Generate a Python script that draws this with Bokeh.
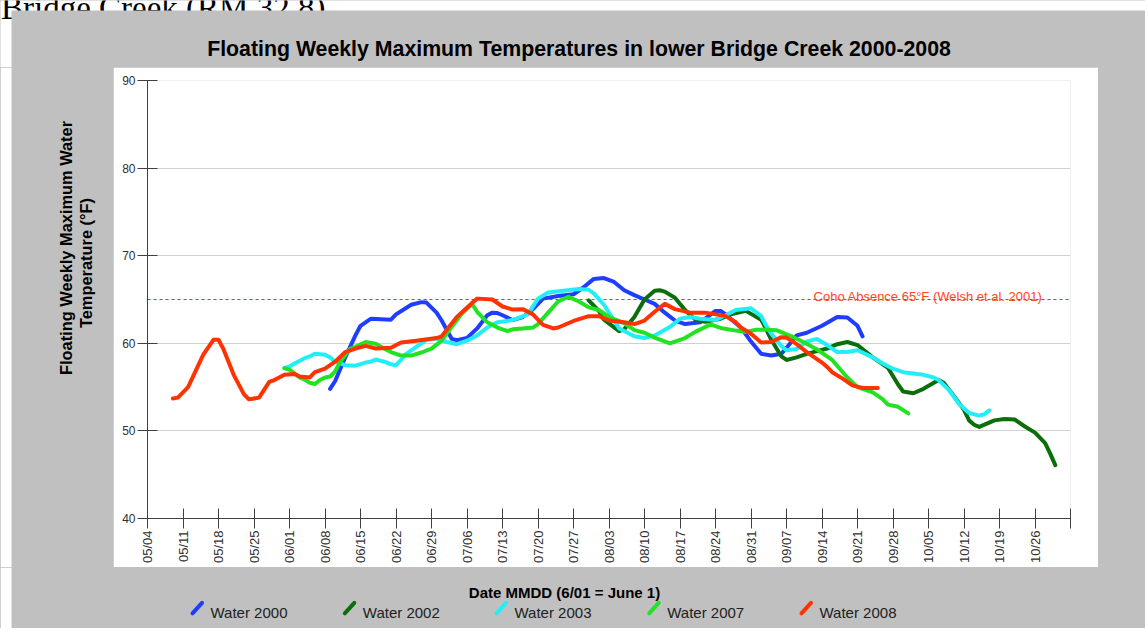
import numpy as np
import pandas as pd
from bokeh.plotting import figure
from bokeh.layouts import column, row
from bokeh.models import ColumnDataSource, FixedTicker, Label, Range1d
from bokeh.core.properties import value
from bokeh.embed import file_html
from bokeh.resources import INLINE

# ---------------- data ----------------
DOC_TEXT = "Bridge Creek (RM 32.8)"
TITLE = "Floating Weekly Maximum Temperatures in lower Bridge Creek 2000-2008"
Y_LABEL_LINES = ["Floating Weekly Maximum Water", "Temperature (°F)"]
X_LABEL = "Date MMDD (6/01 = June 1)"
REF_TEXT = "Coho Absence 65°F (Welsh et al. 2001)"
REF_TEMP = 65

X_START = "05/04"
X_END = "11/02"
X_TICK_LABELS = ["05/04", "05/11", "05/18", "05/25", "06/01", "06/08", "06/15", "06/22",
                 "06/29", "07/06", "07/13", "07/20", "07/27", "08/03", "08/10", "08/17",
                 "08/24", "08/31", "09/07", "09/14", "09/21", "09/28", "10/05", "10/12",
                 "10/19", "10/26"]
Y_MIN, Y_MAX = 40, 90
Y_TICKS = [40, 50, 60, 70, 80, 90]

SERIES_NAMES = ["Water 2000", "Water 2002", "Water 2003", "Water 2007", "Water 2008"]
SERIES_COLORS = ["#1f3dff", "#0a6e0a", "#22eef8", "#22e322", "#ff3300"]

dates_2000 = ["06/09", "06/10", "06/12", "06/14", "06/15", "06/17", "06/19", "06/21", "06/22",
              "06/25", "06/27", "06/28", "06/30", "07/01", "07/03", "07/04", "07/06", "07/08",
              "07/10", "07/11", "07/12", "07/13", "07/15", "07/17", "07/19", "07/21", "07/24",
              "07/27", "07/29", "07/31", "08/02", "08/04", "08/06", "08/08", "08/10", "08/12",
              "08/14", "08/16", "08/18", "08/21", "08/24", "08/25", "08/26", "08/29", "08/31",
              "09/02", "09/04", "09/06", "09/07", "09/09", "09/11", "09/14", "09/17", "09/19",
              "09/21", "09/22"]
temps_2000 = [54.8, 55.7, 58.4, 60.9, 62.0, 62.8, 62.75, 62.7, 63.3,
              64.4, 64.7, 64.65, 63.5, 62.6, 60.5, 60.35, 60.6, 61.7,
              63.2, 63.5, 63.45, 63.2, 62.65, 63.0, 63.9, 65.1, 65.4,
              65.6, 66.4, 67.35, 67.45, 67.0, 66.05, 65.5, 65.0, 64.5,
              63.5, 62.6, 62.2, 62.4, 63.7, 63.7, 63.3, 61.8, 60.2,
              58.8, 58.6, 58.8, 59.5, 60.9, 61.2, 62.0, 63.0, 62.95,
              62.0, 60.8]

dates_2002 = ["07/30", "08/01", "08/02", "08/05", "08/06", "08/08", "08/10", "08/12", "08/13",
              "08/14", "08/16", "08/18", "08/20", "08/22", "08/25", "08/27", "08/30", "09/02",
              "09/03", "09/04", "09/06", "09/07", "09/09", "09/11", "09/13", "09/15", "09/17",
              "09/19", "09/21", "09/24", "09/27", "09/29", "09/30", "10/02", "10/04", "10/07",
              "10/08", "10/10", "10/12", "10/13", "10/14", "10/15", "10/18", "10/20", "10/22",
              "10/24", "10/26", "10/28", "10/29", "10/30"]
temps_2002 = [64.9, 63.7, 62.7, 61.4, 61.6, 63.0, 65.0, 66.0, 66.05,
              65.9, 65.2, 63.8, 62.7, 62.45, 62.8, 63.3, 63.7, 62.7,
              61.6, 60.4, 58.5, 58.1, 58.4, 58.8, 59.1, 59.4, 59.9,
              60.15, 59.8, 58.4, 57.2, 55.3, 54.5, 54.3, 54.8, 55.8,
              55.5, 54.0, 52.4, 51.2, 50.7, 50.45, 51.2, 51.35, 51.3,
              50.5, 49.8, 48.6, 47.4, 46.1]

dates_2003 = ["05/31", "06/01", "06/02", "06/04", "06/05", "06/06", "06/08", "06/09", "06/10",
              "06/12", "06/14", "06/16", "06/17", "06/18", "06/20", "06/21", "06/22", "06/23",
              "06/24", "06/26", "06/28", "06/30", "07/02", "07/04", "07/06", "07/08", "07/10",
              "07/12", "07/15", "07/18", "07/20", "07/22", "07/25", "07/28", "07/30", "07/31",
              "08/02", "08/04", "08/05", "08/06", "08/08", "08/10", "08/12", "08/15", "08/17",
              "08/19", "08/21", "08/24", "08/26", "08/28", "08/31", "09/02", "09/03", "09/04",
              "09/06", "09/07", "09/09", "09/11", "09/13", "09/15", "09/17", "09/19", "09/21",
              "09/24", "09/26", "09/28", "09/30", "10/02", "10/04", "10/06", "10/07", "10/09",
              "10/11", "10/13", "10/15", "10/16", "10/17"]
temps_2003 = [57.2, 57.35, 57.7, 58.3, 58.5, 58.8, 58.7, 58.4, 57.9,
              57.5, 57.45, 57.8, 57.9, 58.15, 57.85, 57.6, 57.5, 58.1,
              58.8, 59.6, 60.4, 60.55, 60.15, 59.9, 60.3, 60.9, 61.8,
              62.4, 62.65, 63.3, 65.1, 65.8, 66.0, 66.2, 66.1, 65.7,
              64.4, 62.6, 61.7, 61.4, 60.8, 60.6, 60.9, 61.85, 62.8,
              63.0, 62.8, 62.65, 63.2, 63.8, 64.0, 63.1, 62.0, 61.1,
              59.7, 59.2, 59.35, 60.2, 60.5, 59.8, 59.0, 59.0, 59.2,
              58.4, 57.7, 57.1, 56.7, 56.55, 56.4, 56.1, 55.8, 54.7,
              53.1, 52.05, 51.75, 51.9, 52.35]

dates_2007 = ["05/31", "06/01", "06/03", "06/04", "06/05", "06/06", "06/07", "06/08", "06/09",
              "06/10", "06/11", "06/13", "06/14", "06/16", "06/18", "06/20", "06/21", "06/23",
              "06/25", "06/27", "06/29", "07/01", "07/03", "07/05", "07/07", "07/08", "07/10",
              "07/12", "07/14", "07/15", "07/17", "07/19", "07/20", "07/22", "07/24", "07/26",
              "07/28", "07/30", "08/01", "08/03", "08/06", "08/08", "08/10", "08/12", "08/15",
              "08/18", "08/20", "08/23", "08/25", "08/28", "08/30", "09/01", "09/03", "09/05",
              "09/08", "09/11", "09/13", "09/16", "09/19", "09/21", "09/23", "09/24", "09/26",
              "09/27", "09/29", "10/01"]
temps_2007 = [57.15, 57.0, 56.1, 55.85, 55.5, 55.35, 55.8, 56.1, 56.2,
              56.8, 57.9, 59.4, 59.6, 60.15, 59.95, 59.3, 59.0, 58.6,
              58.6, 58.95, 59.4, 60.3, 61.9, 63.4, 64.5, 63.6, 62.4,
              61.8, 61.4, 61.6, 61.7, 61.8, 62.2, 63.5, 64.8, 65.3,
              64.8, 64.1, 63.8, 63.0, 62.3, 61.5, 61.2, 60.65, 60.0,
              60.6, 61.3, 62.15, 61.75, 61.45, 61.3, 61.55, 61.55, 61.5,
              60.8, 59.95, 59.3, 58.1, 56.1, 55.0, 54.6, 54.4, 53.6,
              53.0, 52.75, 52.0]

dates_2008 = ["05/09", "05/10", "05/12", "05/15", "05/17", "05/18", "05/19", "05/21", "05/23",
              "05/24", "05/26", "05/28", "05/29", "05/31", "06/02", "06/03", "06/05", "06/06",
              "06/08", "06/10", "06/12", "06/14", "06/16", "06/18", "06/21", "06/23", "06/26",
              "06/30", "07/01", "07/04", "07/07", "07/08", "07/11", "07/13", "07/15", "07/17",
              "07/19", "07/21", "07/23", "07/24", "07/27", "07/30", "08/01", "08/03", "08/06",
              "08/08", "08/10", "08/12", "08/14", "08/16", "08/19", "08/22", "08/26", "08/28",
              "08/29", "08/31", "09/02", "09/04", "09/06", "09/07", "09/09", "09/11", "09/13",
              "09/14", "09/15", "09/16", "09/18", "09/20", "09/22", "09/25"]
temps_2008 = [53.7, 53.8, 55.0, 58.7, 60.4, 60.4, 59.3, 56.4, 54.2,
              53.6, 53.8, 55.6, 55.8, 56.4, 56.5, 56.2, 56.1, 56.7,
              57.1, 57.9, 59.0, 59.4, 59.7, 59.4, 59.5, 60.1, 60.3,
              60.6, 60.8, 63.0, 64.6, 65.1, 65.0, 64.2, 63.85, 63.9,
              63.3, 62.1, 61.7, 61.8, 62.55, 63.1, 63.1, 62.6, 62.4,
              62.2, 62.6, 63.6, 64.5, 63.9, 63.5, 63.5, 63.1, 62.4,
              61.8, 61.1, 60.1, 60.15, 60.7, 60.65, 59.9, 59.0, 58.2,
              57.8, 57.3, 56.7, 56.0, 55.2, 54.9, 54.9]

SERIES_DATES = [dates_2000, dates_2002, dates_2003, dates_2007, dates_2008]
SERIES_TEMPS = [temps_2000, temps_2002, temps_2003, temps_2007, temps_2008]


def day_of(mmdd):
    m, d = map(int, mmdd.split("/"))
    s_m, s_d = map(int, X_START.split("/"))
    return (pd.Timestamp(2008, m, d) - pd.Timestamp(2008, s_m, s_d)).days


# ---------------- layout (pixels) ----------------
TOTAL_W, TOTAL_H = 1145, 628
MARGIN_L, MARGIN_T = 11, 10                                  # white page strip left / top
PANEL_L, PANEL_T, PANEL_W, PANEL_H = 113, 67, 985, 500      # white chart panel
FL, FR, FT, FB = 34, 28, 13, 49                              # frame inside the panel
X0, X1 = 0, day_of(X_END)
FONT = "Liberation Sans"
GRAY = "#c0c0c0"


def pixel_fig(w, h, bg=GRAY):
    return figure(width=w, height=h, output_backend="svg", toolbar_location=None,
                  x_range=Range1d(0, w), y_range=Range1d(h, 0),
                  x_axis_type=None, y_axis_type=None, frame_align=False,
                  min_border=0, min_border_left=0, min_border_right=0,
                  min_border_top=0, min_border_bottom=0,
                  background_fill_color=bg, border_fill_color=bg, outline_line_color=None)


def white_strip(f, h):
    f.quad(left=0, right=MARGIN_L, top=0, bottom=h, fill_color="white", line_color=None)


# main chart
p = figure(width=PANEL_W, height=PANEL_H, output_backend="svg", toolbar_location=None,
           x_range=Range1d(X0, X1), y_range=Range1d(Y_MIN, Y_MAX), frame_align=False,
           min_border_left=FL, min_border_right=FR, min_border_top=FT, min_border_bottom=FB,
           background_fill_color="white", border_fill_color="white", outline_line_color=None)

tick_days = [day_of(t) for t in X_TICK_LABELS]
p.xaxis.ticker = FixedTicker(ticks=tick_days + [X1])
overrides = {d: lab for d, lab in zip(tick_days, X_TICK_LABELS)}
overrides[X1] = ""
p.xaxis.major_label_overrides = overrides
p.xaxis.major_label_orientation = np.pi / 2
p.yaxis.ticker = FixedTicker(ticks=Y_TICKS)
for ax, fs in ((p.xaxis[0], "13px"), (p.yaxis[0], "12px")):
    ax.axis_line_color = "#404040"
    ax.axis_line_width = 1
    ax.major_tick_line_color = "#404040"
    ax.major_tick_in = 10
    ax.major_tick_out = 10
    ax.minor_tick_line_color = None
    ax.major_label_text_font = FONT
    ax.major_label_text_font_size = fs
    ax.major_label_text_color = "#303030"
    ax.major_label_standoff = 2
p.xgrid.grid_line_color = None
p.ygrid.grid_line_color = "#d0d0d0"
p.ygrid.grid_line_width = 1

# reference threshold line + label
p.line([X0, X1], [REF_TEMP, REF_TEMP], line_color="#ff2a00", line_dash="3 3", line_width=1.2)
p.add_layout(Label(x=X1, x_offset=-28, y=REF_TEMP, y_offset=2.6, text=REF_TEXT,
                   text_align="right", text_baseline="alphabetic", text_font=FONT,
                   text_font_size="13px", text_color="#ff4422"))

for name, color, dates, temps in zip(SERIES_NAMES, SERIES_COLORS, SERIES_DATES, SERIES_TEMPS):
    src = ColumnDataSource(dict(day=[day_of(d) for d in dates], temp=temps))
    p.line("day", "temp", source=src, line_color=color, line_width=4,
           line_join="round", line_cap="round")

# top: document caption fragment (partly hidden under the gray panel) + title
top = pixel_fig(TOTAL_W, PANEL_T, bg="white")
top.text(x=[0.5], y=[7], text=[DOC_TEXT], text_align="left", text_baseline="alphabetic",
         text_font=value("Liberation Serif"), text_font_size=value("33px"), text_color="black")
top.quad(left=MARGIN_L, right=TOTAL_W, top=MARGIN_T, bottom=PANEL_T, fill_color=GRAY, line_color=None)
top.add_layout(Label(x=578.5, y=48.3, text=TITLE, text_align="center", text_baseline="alphabetic",
                     text_font=FONT, text_font_size="21.3px", text_font_style="bold",
                     text_color="black"))

# left: y label (two lines, rotated)
left = pixel_fig(PANEL_L, PANEL_H)
white_strip(left, PANEL_H)
for txt, lx, ly in zip(Y_LABEL_LINES, [65.0, 85.0], [247.5 - PANEL_T, 262.5 - PANEL_T]):
    left.add_layout(Label(x=lx, y=ly, text=txt, angle=np.pi / 2, text_align="center",
                          text_baseline="alphabetic", text_font=FONT, text_font_size="16.4px",
                          text_font_style="bold", text_color="black"))

# right filler
right = pixel_fig(TOTAL_W - PANEL_L - PANEL_W, PANEL_H)

# bottom: x label + legend
BOT_H = TOTAL_H - PANEL_T - PANEL_H
bottom = pixel_fig(TOTAL_W, BOT_H)
white_strip(bottom, BOT_H)
bottom.add_layout(Label(x=564, y=24.7, text=X_LABEL, text_align="center", text_baseline="alphabetic",
                        text_font=FONT, text_font_size="15px", text_font_style="bold",
                        text_color="black"))
LEG_X = [210, 362.3, 514, 666.7, 819]
LEG_BASE = 45.3
bottom.segment(x0=[x - 18 for x in LEG_X], y0=[LEG_BASE + 0.5] * 5,
               x1=[x - 8.5 for x in LEG_X], y1=[LEG_BASE - 10] * 5,
               line_color=SERIES_COLORS, line_width=4, line_cap="round")
for name, tx in zip(SERIES_NAMES, LEG_X):
    bottom.add_layout(Label(x=tx, y=LEG_BASE, text=name, text_align="left",
                            text_baseline="alphabetic", text_font=FONT, text_font_size="15px",
                            text_color="#202020"))

layout = column(top, row(left, p, right, spacing=0, styles={"background-color": GRAY}),
                bottom, spacing=0, styles={"background-color": GRAY})
open("out.html", "w").write(file_html(layout, INLINE))
